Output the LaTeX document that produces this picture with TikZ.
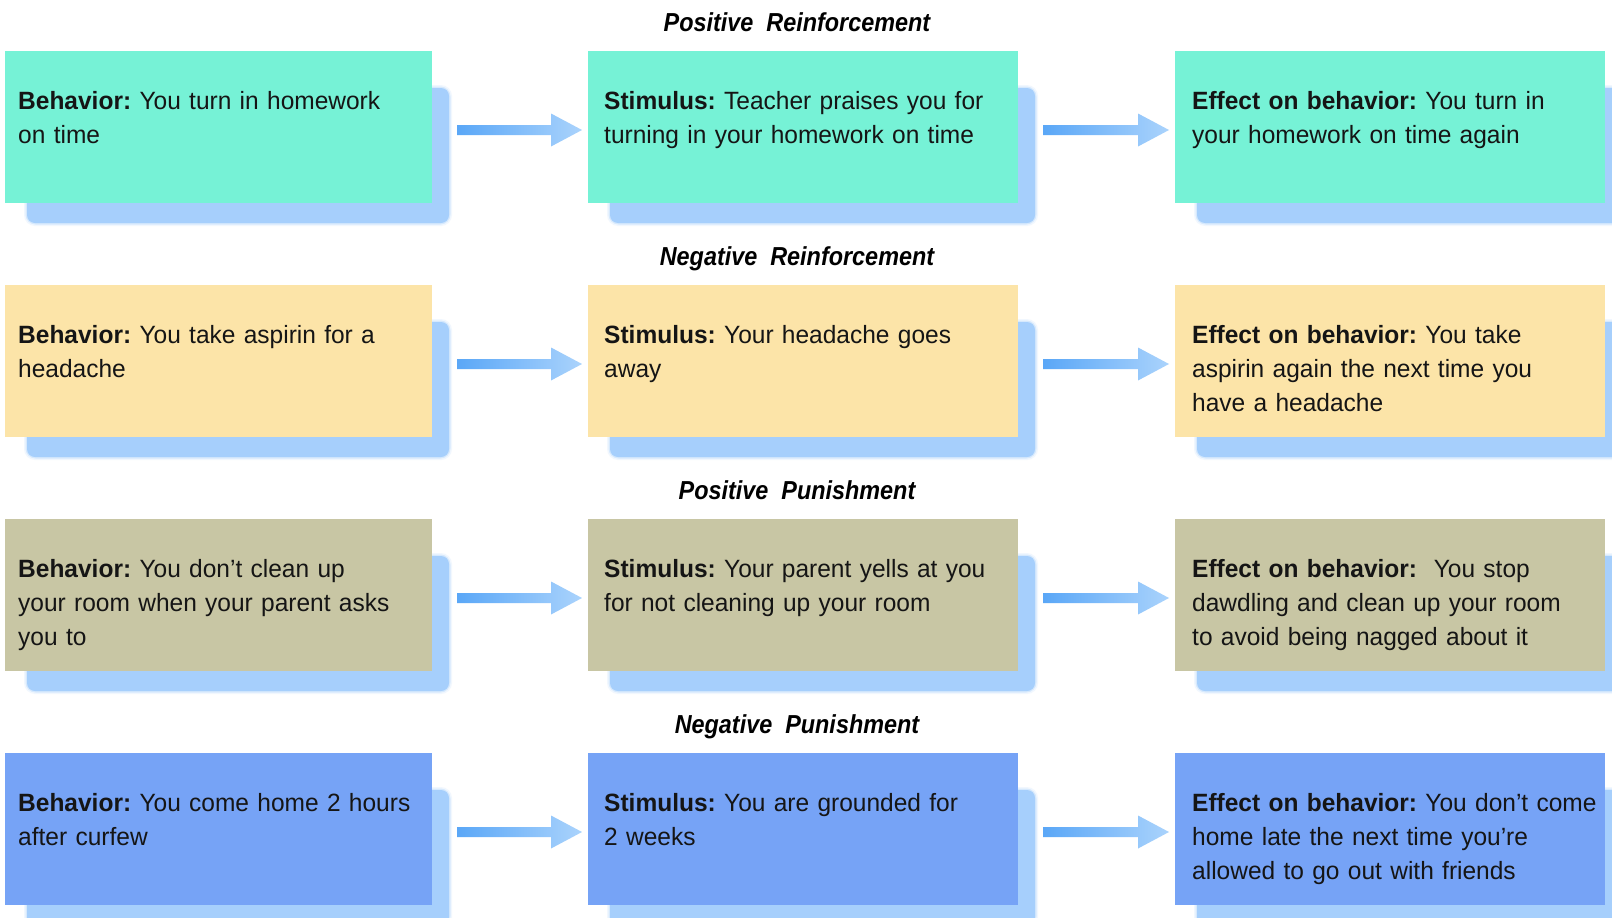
\documentclass[tikz,border=0pt]{standalone}
\usepackage{fontspec}
\setmainfont[FakeStretch=0.98]{Liberation Sans}
\newfontfamily\titlefont[FakeStretch=0.9]{Liberation Sans}
\usetikzlibrary{calc,backgrounds}
\frenchspacing
\definecolor{rowA}{HTML}{76F2D6}
\definecolor{rowB}{HTML}{FCE4A8}
\definecolor{rowC}{HTML}{C8C6A4}
\definecolor{rowD}{HTML}{76A3F6}
\definecolor{shadowc}{HTML}{A6CFFC}
\definecolor{arrL}{HTML}{5AA7F7}
\definecolor{arrR}{HTML}{AAD3FC}
\definecolor{txt}{HTML}{151515}
\tikzset{
  box/.style={anchor=north west, inner sep=0, outer sep=0, minimum height=152pt},
  boxtext/.style={anchor=north west, inner sep=0, text width=425pt, align=left,
    text=txt, font=\frenchspacing\fontsize{25}{34}\selectfont},
  rowtitle/.style={anchor=base, inner sep=0, font=\titlefont\bfseries\itshape\fontsize{26}{30}\selectfont},
  flowarrow/.style={left color=arrL, right color=arrR, draw=none},
}
\begin{document}
\begin{tikzpicture}[x=1pt,y=-1pt]
\useasboundingbox (0,0) rectangle (1612,918);
% boxes
\foreach \r/\top/\col in {1/51/rowA,2/285/rowB,3/519/rowC,4/753/rowD}{
  \node[box, fill=\col, minimum width=427pt] (b\r1) at (5,\top) {};
  \node[box, fill=\col, minimum width=430pt] (b\r2) at (588,\top) {};
  \node[box, fill=\col, minimum width=430pt] (b\r3) at (1175,\top) {};
}
% background and shadows
\begin{pgfonlayer}{background}
\fill[white] (0,0) rectangle (1612,918);
\foreach \r in {1,2,3,4}{
  \foreach \c in {1,2,3}{
    \fill[shadowc, opacity=0.15, rounded corners=11pt] ($(b\r\c.north west)+(19,34)$) rectangle ($(b\r\c.south east)+(20,23)$);
    \fill[shadowc, opacity=0.35, rounded corners=10pt] ($(b\r\c.north west)+(20.5,35.5)$) rectangle ($(b\r\c.south east)+(18.5,21.5)$);
    \fill[shadowc, rounded corners=8pt] ($(b\r\c.north west)+(22,37)$) rectangle ($(b\r\c.south east)+(17,20)$);
  }
}
\end{pgfonlayer}
% arrows
\foreach \r in {1,2,3,4}{
  \foreach \a/\b in {1/2,2/3}{
    \shade[flowarrow] let \p1=($(b\r\a.east)+(25,3)$), \p2=($(b\r\b.west)+(-6,3)$) in
      (\x1,\y1+5pt) -- (\x2-31pt,\y1+5pt) -- (\x2-31pt,\y1+16.5pt) -- (\x2,\y1)
      -- (\x2-31pt,\y1-16.5pt) -- (\x2-31pt,\y1-5pt) -- (\x1,\y1-5pt) -- cycle;
  }
}
% titles
\node[rowtitle] (h1) at (797,31) {Positive\ \ Reinforcement};
\node[rowtitle] (h2) at (797,265) {Negative\ \ Reinforcement};
\node[rowtitle] (h3) at (797,499) {Positive\ \ Punishment};
\node[rowtitle] (h4) at (797,733) {Negative\ \ Punishment};
% texts
\node[boxtext] (t11) at ($(b11.north west)+(13,34.2)$) {\strut\textbf{Behavior:} You turn in homework\\on time};
\node[boxtext] (t12) at ($(b12.north west)+(16,34.2)$) {\strut\textbf{Stimulus:} Teacher praises you for\\turning in your homework on time};
\node[boxtext] (t13) at ($(b13.north west)+(17,34.2)$) {\strut\textbf{Effect on behavior:} You turn in\\your homework on time again};
\node[boxtext] (t21) at ($(b21.north west)+(13,34.2)$) {\strut\textbf{Behavior:} You take aspirin for a\\headache};
\node[boxtext] (t22) at ($(b22.north west)+(16,34.2)$) {\strut\textbf{Stimulus:} Your headache goes\\away};
\node[boxtext] (t23) at ($(b23.north west)+(17,34.2)$) {\strut\textbf{Effect on behavior:} You take\\aspirin again the next time you\\have a headache};
\node[boxtext] (t31) at ($(b31.north west)+(13,34.2)$) {\strut\textbf{Behavior:} You don’t clean up\\your room when your parent asks\\you to};
\node[boxtext] (t32) at ($(b32.north west)+(16,34.2)$) {\strut\textbf{Stimulus:} Your parent yells at you\\for not cleaning up your room};
\node[boxtext] (t33) at ($(b33.north west)+(17,34.2)$) {\strut\textbf{Effect on behavior:}\ \ You stop\\dawdling and clean up your room\\to avoid being nagged about it};
\node[boxtext] (t41) at ($(b41.north west)+(13,34.2)$) {\strut\textbf{Behavior:} You come home 2 hours\\after curfew};
\node[boxtext] (t42) at ($(b42.north west)+(16,34.2)$) {\strut\textbf{Stimulus:} You are grounded for\\2 weeks};
\node[boxtext] (t43) at ($(b43.north west)+(17,34.2)$) {\strut\textbf{Effect on behavior:} You don’t come\\home late the next time you’re\\allowed to go out with friends};
\end{tikzpicture}
\end{document}
